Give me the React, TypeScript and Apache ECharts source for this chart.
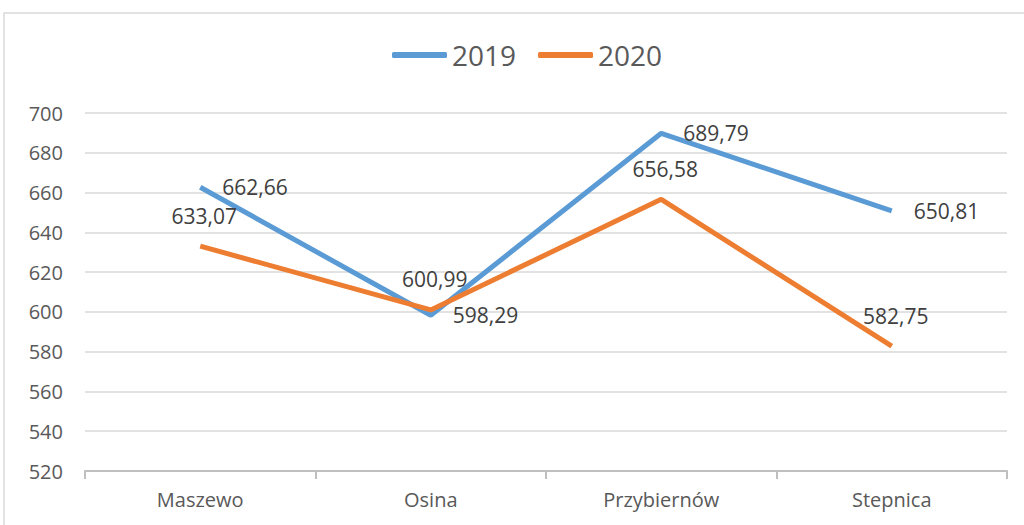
import React, { useEffect, useRef } from "react";
import * as echarts from "echarts";

const categories = ["Maszewo", "Osina", "Przybiernów", "Stepnica"];
const values2019 = [662.66, 598.29, 689.79, 650.81];
const values2020 = [633.07, 600.99, 656.58, 582.75];
const seriesNames = ["2019", "2020"];

const FONT = "'Open Sans', 'Noto Sans', sans-serif";
const fmt = (v: number) => v.toFixed(2).replace(".", ",");

export default function App() {
  const ref = useRef<HTMLDivElement>(null);
  useEffect(() => {
    if (!ref.current) return;
    const chart = echarts.init(ref.current, null, { renderer: "svg" });
    chart.setOption({
      animation: false,
      backgroundColor: "#ffffff",
      textStyle: { fontFamily: FONT },
      graphic: [
        {
          type: "rect",
          shape: { x: 4, y: 13, width: 1100, height: 600 },
          style: { fill: "none", stroke: "#D9D9D9", lineWidth: 1.5 },
          silent: true,
        },
      ],
      legend: {
        top: 36,
        left: 387,
        itemWidth: 55,
        itemHeight: 6,
        itemGap: 22,
        icon: "roundRect",
        textStyle: { fontSize: 28, color: "#595959", fontFamily: FONT, padding: [0, 0, 0, 0] },
        data: seriesNames,
      },
      grid: { left: 85, right: 17, top: 113, bottom: 54 },
      xAxis: {
        type: "category",
        data: categories,
        boundaryGap: true,
        axisLine: { lineStyle: { color: "#BFBFBF", width: 2 } },
        axisTick: { show: true, length: 8, lineStyle: { color: "#BFBFBF", width: 2 } },
        axisLabel: { fontSize: 20, color: "#595959", margin: 18, fontFamily: FONT },
      },
      yAxis: {
        type: "value",
        min: 520,
        max: 700,
        interval: 20,
        axisLine: { show: false },
        axisTick: { show: false },
        axisLabel: { fontSize: 20, color: "#595959", margin: 22, fontFamily: FONT },
        splitLine: { lineStyle: { color: "#D9D9D9", width: 1.5 } },
      },
      series: [
        {
          name: seriesNames[0],
          type: "line",
          data: values2019,
          symbol: "circle",
          symbolSize: 0,
          showSymbol: true,
          lineStyle: { color: "#5B9BD5", width: 5 },
          itemStyle: { color: "#5B9BD5" },
          label: {
            show: true,
            position: "right",
            distance: 22,
            fontSize: 21,
            color: "#404040",
            fontFamily: FONT,
            formatter: (p: any) => fmt(p.value),
          },
        },
        {
          name: seriesNames[1],
          type: "line",
          data: values2020,
          symbol: "circle",
          symbolSize: 0,
          showSymbol: true,
          lineStyle: { color: "#ED7D31", width: 5 },
          itemStyle: { color: "#ED7D31" },
          label: {
            show: true,
            position: "top",
            distance: 20,
            offset: [4, 0],
            fontSize: 21,
            color: "#404040",
            fontFamily: FONT,
            formatter: (p: any) => fmt(p.value),
          },
        },
      ],
    });
    return () => chart.dispose();
  }, []);
  return (
    <div
      ref={ref}
      style={{ position: "absolute", left: 0, top: 0, width: 1024, height: 525 }}
    />
  );
}
